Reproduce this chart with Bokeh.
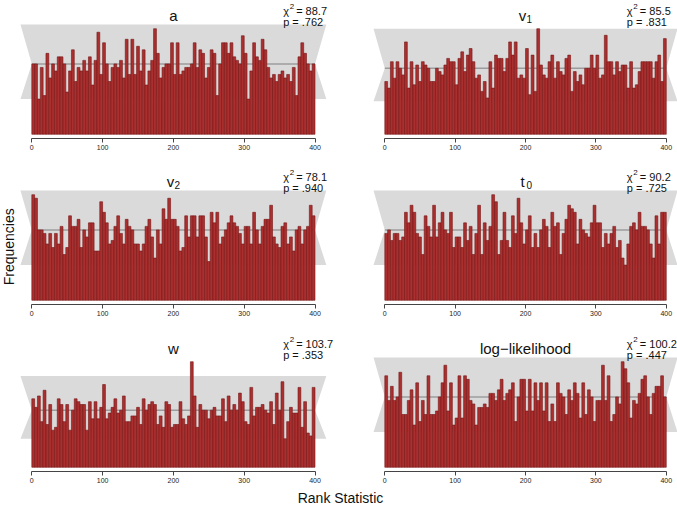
from math import pi

from bokeh.core.properties import value
from bokeh.embed import file_html
from bokeh.layouts import column, row
from bokeh.models import FixedTicker, Range1d
from bokeh.plotting import figure
from bokeh.resources import INLINE

# Rank histograms: 100 bins of width 4 over ranks 0..400
bin_edges = list(range(0, 404, 4))

counts_a = [
    20, 20, 10, 19, 11, 23, 16, 20, 18, 22,
    22, 20, 12, 18, 24, 15, 19, 18, 21, 18,
    22, 14, 21, 29, 17, 26, 20, 15, 19, 20,
    19, 21, 16, 27, 17, 27, 17, 25, 18, 24,
    14, 18, 21, 30, 23, 16, 19, 20, 20, 26,
    17, 26, 17, 18, 19, 19, 20, 26, 19, 24,
    23, 16, 19, 24, 23, 11, 20, 26, 26, 23,
    26, 22, 21, 20, 28, 23, 10, 18, 26, 22,
    21, 27, 24, 19, 16, 17, 15, 17, 18, 16,
    17, 15, 19, 11, 22, 26, 23, 20, 18, 20,
]
counts_v1 = [
    16, 14, 22, 17, 22, 20, 18, 28, 14, 22,
    15, 21, 16, 22, 21, 20, 16, 16, 20, 19,
    18, 21, 23, 22, 22, 15, 23, 25, 19, 24,
    26, 22, 17, 18, 13, 16, 11, 22, 14, 24,
    23, 23, 19, 23, 28, 24, 28, 17, 18, 17,
    26, 12, 24, 13, 32, 21, 18, 17, 22, 24,
    17, 22, 19, 18, 23, 24, 13, 19, 16, 18,
    15, 20, 20, 24, 20, 24, 17, 18, 30, 22,
    22, 18, 22, 19, 21, 21, 14, 22, 14, 15,
    19, 22, 22, 22, 22, 17, 22, 24, 16, 29,
]
counts_v2 = [
    30, 29, 20, 20, 19, 16, 19, 15, 19, 16,
    21, 13, 15, 24, 21, 21, 23, 15, 20, 18,
    22, 22, 14, 14, 28, 25, 22, 16, 17, 21,
    24, 19, 16, 23, 21, 20, 16, 16, 14, 16,
    21, 23, 18, 12, 20, 16, 26, 23, 29, 23,
    23, 21, 14, 15, 24, 18, 24, 24, 18, 24,
    24, 18, 11, 25, 22, 25, 16, 18, 20, 22,
    24, 22, 21, 19, 16, 21, 21, 16, 25, 20,
    16, 21, 23, 23, 27, 18, 16, 15, 21, 22,
    16, 18, 14, 20, 21, 16, 20, 21, 27, 24,
]
counts_t0 = [
    19, 20, 17, 19, 19, 17, 18, 25, 22, 27,
    25, 19, 18, 13, 24, 21, 18, 27, 18, 22,
    25, 20, 19, 25, 15, 18, 18, 15, 22, 17,
    21, 13, 19, 27, 13, 22, 17, 21, 30, 28,
    13, 17, 25, 17, 15, 24, 19, 29, 22, 16,
    20, 24, 15, 19, 15, 20, 23, 21, 15, 25,
    21, 22, 13, 19, 23, 27, 26, 25, 16, 23,
    20, 19, 18, 22, 27, 22, 22, 15, 19, 16,
    19, 21, 15, 17, 12, 10, 16, 21, 22, 20,
    25, 21, 21, 20, 16, 12, 24, 16, 25, 25,
]
counts_w = [
    24, 21, 25, 16, 27, 15, 22, 13, 14, 24,
    22, 16, 22, 13, 20, 24, 23, 22, 22, 13,
    23, 17, 23, 17, 21, 29, 17, 19, 21, 24,
    19, 20, 25, 16, 16, 18, 18, 21, 15, 24,
    20, 22, 23, 22, 15, 18, 14, 23, 22, 14,
    15, 15, 23, 17, 15, 18, 37, 25, 14, 22,
    20, 20, 17, 20, 21, 18, 18, 24, 16, 25,
    20, 22, 20, 26, 23, 16, 15, 28, 18, 21,
    21, 22, 20, 19, 23, 15, 26, 20, 30, 10,
    16, 21, 19, 19, 28, 14, 23, 12, 11, 28,
]
counts_ll = [
    26, 19, 23, 19, 20, 27, 15, 15, 19, 22,
    12, 24, 13, 19, 15, 26, 15, 15, 16, 20,
    24, 29, 16, 24, 12, 14, 26, 14, 26, 25,
    19, 18, 12, 17, 17, 18, 17, 21, 21, 19,
    22, 25, 19, 21, 22, 24, 13, 20, 25, 25,
    16, 25, 16, 24, 19, 24, 16, 24, 13, 18,
    13, 24, 21, 20, 15, 22, 19, 24, 21, 14,
    24, 15, 22, 20, 13, 19, 19, 29, 19, 26,
    13, 15, 20, 18, 30, 28, 24, 14, 19, 18,
    21, 25, 26, 20, 15, 21, 23, 23, 26, 20,
]

title_main = ["a", "v", "v", "t", "w", "log\u2212likelihood"]
title_sub = ["", "1", "2", "0", "", ""]
chi_sq = ["88.7", "85.5", "78.1", "90.2", "103.7", "100.2"]
p_vals = [".762", ".831", ".940", ".725", ".353", ".447"]
x_ticks = [0, 100, 200, 300, 400]

# expected count per bin and the 99% band around it
expected = 20
band_low = 10
band_high = 32

FONT = "Liberation Sans"
BAR_FILL = "#ab2f2f"
BAR_LINE = "#761616"

PLOT_H = 114          # pixel height of the histogram area (from -4% to 104% of max)
PX_PER_RANK = [0.708, 0.7037]
ZERO_PX = [31.3, 34.3]  # where rank 0 sits inside each column's canvas
STAT_X = [355, 344]     # left edge of the chi-square / p annotation, in ranks


def txt(p, x, y, s, size, align="left", baseline="alphabetic", angle=0.0):
    p.text(x=[x], y=[y], text=[s], text_font=value(FONT), text_font_size=size,
           text_align=align, text_baseline=baseline, text_color="#111111", angle=angle)


def make_panel(counts, k, col, width, height, top_pad, bottom_pad):
    top = max(counts)
    unit = PLOT_H / (1.08 * top)            # pixels per count
    y0 = -0.04 * top
    y1 = 1.04 * top + top_pad / unit
    ppr = PX_PER_RANK[col]
    x0 = -ZERO_PX[col] / ppr
    x1 = x0 + width / ppr

    p = figure(width=width, height=height,
               x_range=Range1d(x0, x1), y_range=Range1d(y0, y1),
               output_backend="svg", toolbar_location=None, y_axis_location=None,
               min_border_left=0, min_border_right=0,
               min_border_top=0, min_border_bottom=bottom_pad)
    p.outline_line_color = None
    p.xgrid.visible = False
    p.ygrid.visible = False
    p.background_fill_color = "white"
    p.border_fill_color = "white"

    band_top = min(band_high, 1.04 * top)
    p.patch([-16, 0, -16, 416, 400, 416],
            [band_low, expected, band_top, band_top, expected, band_low],
            fill_color="#dadada", line_color=None)
    p.line([0, 400], [expected, expected], line_color="#9c9c9c", line_width=1.5)
    p.quad(left=bin_edges[:-1], right=bin_edges[1:], bottom=0, top=counts,
           fill_color=BAR_FILL, line_color=BAR_LINE, line_width=0.6)

    ax = p.xaxis[0]
    ax.ticker = FixedTicker(ticks=x_ticks)
    ax.bounds = (0, 400)
    ax.minor_tick_line_color = None
    ax.major_tick_in = 0
    ax.major_tick_out = 4
    ax.axis_line_color = "#444444"
    ax.major_tick_line_color = "#444444"
    ax.major_label_text_font = FONT
    ax.major_label_text_font_size = "7px"
    ax.major_label_text_color = "#222222"
    ax.major_label_standoff = 2

    ytop = 1.04 * top

    def dy(px):
        return ytop + px / unit

    def dx(x, px):
        return x + px / ppr

    main, sub = title_main[k], title_sub[k]
    if sub:
        txt(p, dx(200, -3), dy(9), main, "15px", align="center")
        txt(p, dx(200, 1), dy(6), sub, "10px")
    else:
        txt(p, 200, dy(9), main, "15px", align="center")

    xs = STAT_X[col]
    txt(p, xs, dy(14), "\u03c7", "11px")
    txt(p, dx(xs, 6.5), dy(18.5), "2", "8px")
    txt(p, dx(xs, 13), dy(14), "= " + chi_sq[k], "11px")
    txt(p, xs, dy(3), "p  = " + p_vals[k], "11px")

    if k == 2:
        txt(p, dx(0, -23.3), 53.5 / unit, "Frequencies", "14px",
            align="center", baseline="middle", angle=pi / 2)
    return p


all_counts = [counts_a, counts_v1, counts_v2, counts_t0, counts_w, counts_ll]
row_specs = [(167, 24, 29), (166, 23, 29), (154, 24, 16)]

rows = []
for r, (h, tp, bb) in enumerate(row_specs):
    left = make_panel(all_counts[2 * r], 2 * r, 0, 350, h, tp, bb)
    right = make_panel(all_counts[2 * r + 1], 2 * r + 1, 1, 327, h, tp, bb)
    rows.append(row(left, right))

footer = figure(width=677, height=18, x_range=Range1d(0, 677), y_range=Range1d(0, 18),
                output_backend="svg", toolbar_location=None,
                x_axis_location=None, y_axis_location=None,
                min_border_left=0, min_border_right=0, min_border_top=0, min_border_bottom=0)
footer.outline_line_color = None
footer.xgrid.visible = False
footer.ygrid.visible = False
txt(footer, 340, 8, "Rank Statistic", "14px", align="center", baseline="middle")

layout = column(*rows, footer)

open("out.html", "w").write(file_html(layout, INLINE))
